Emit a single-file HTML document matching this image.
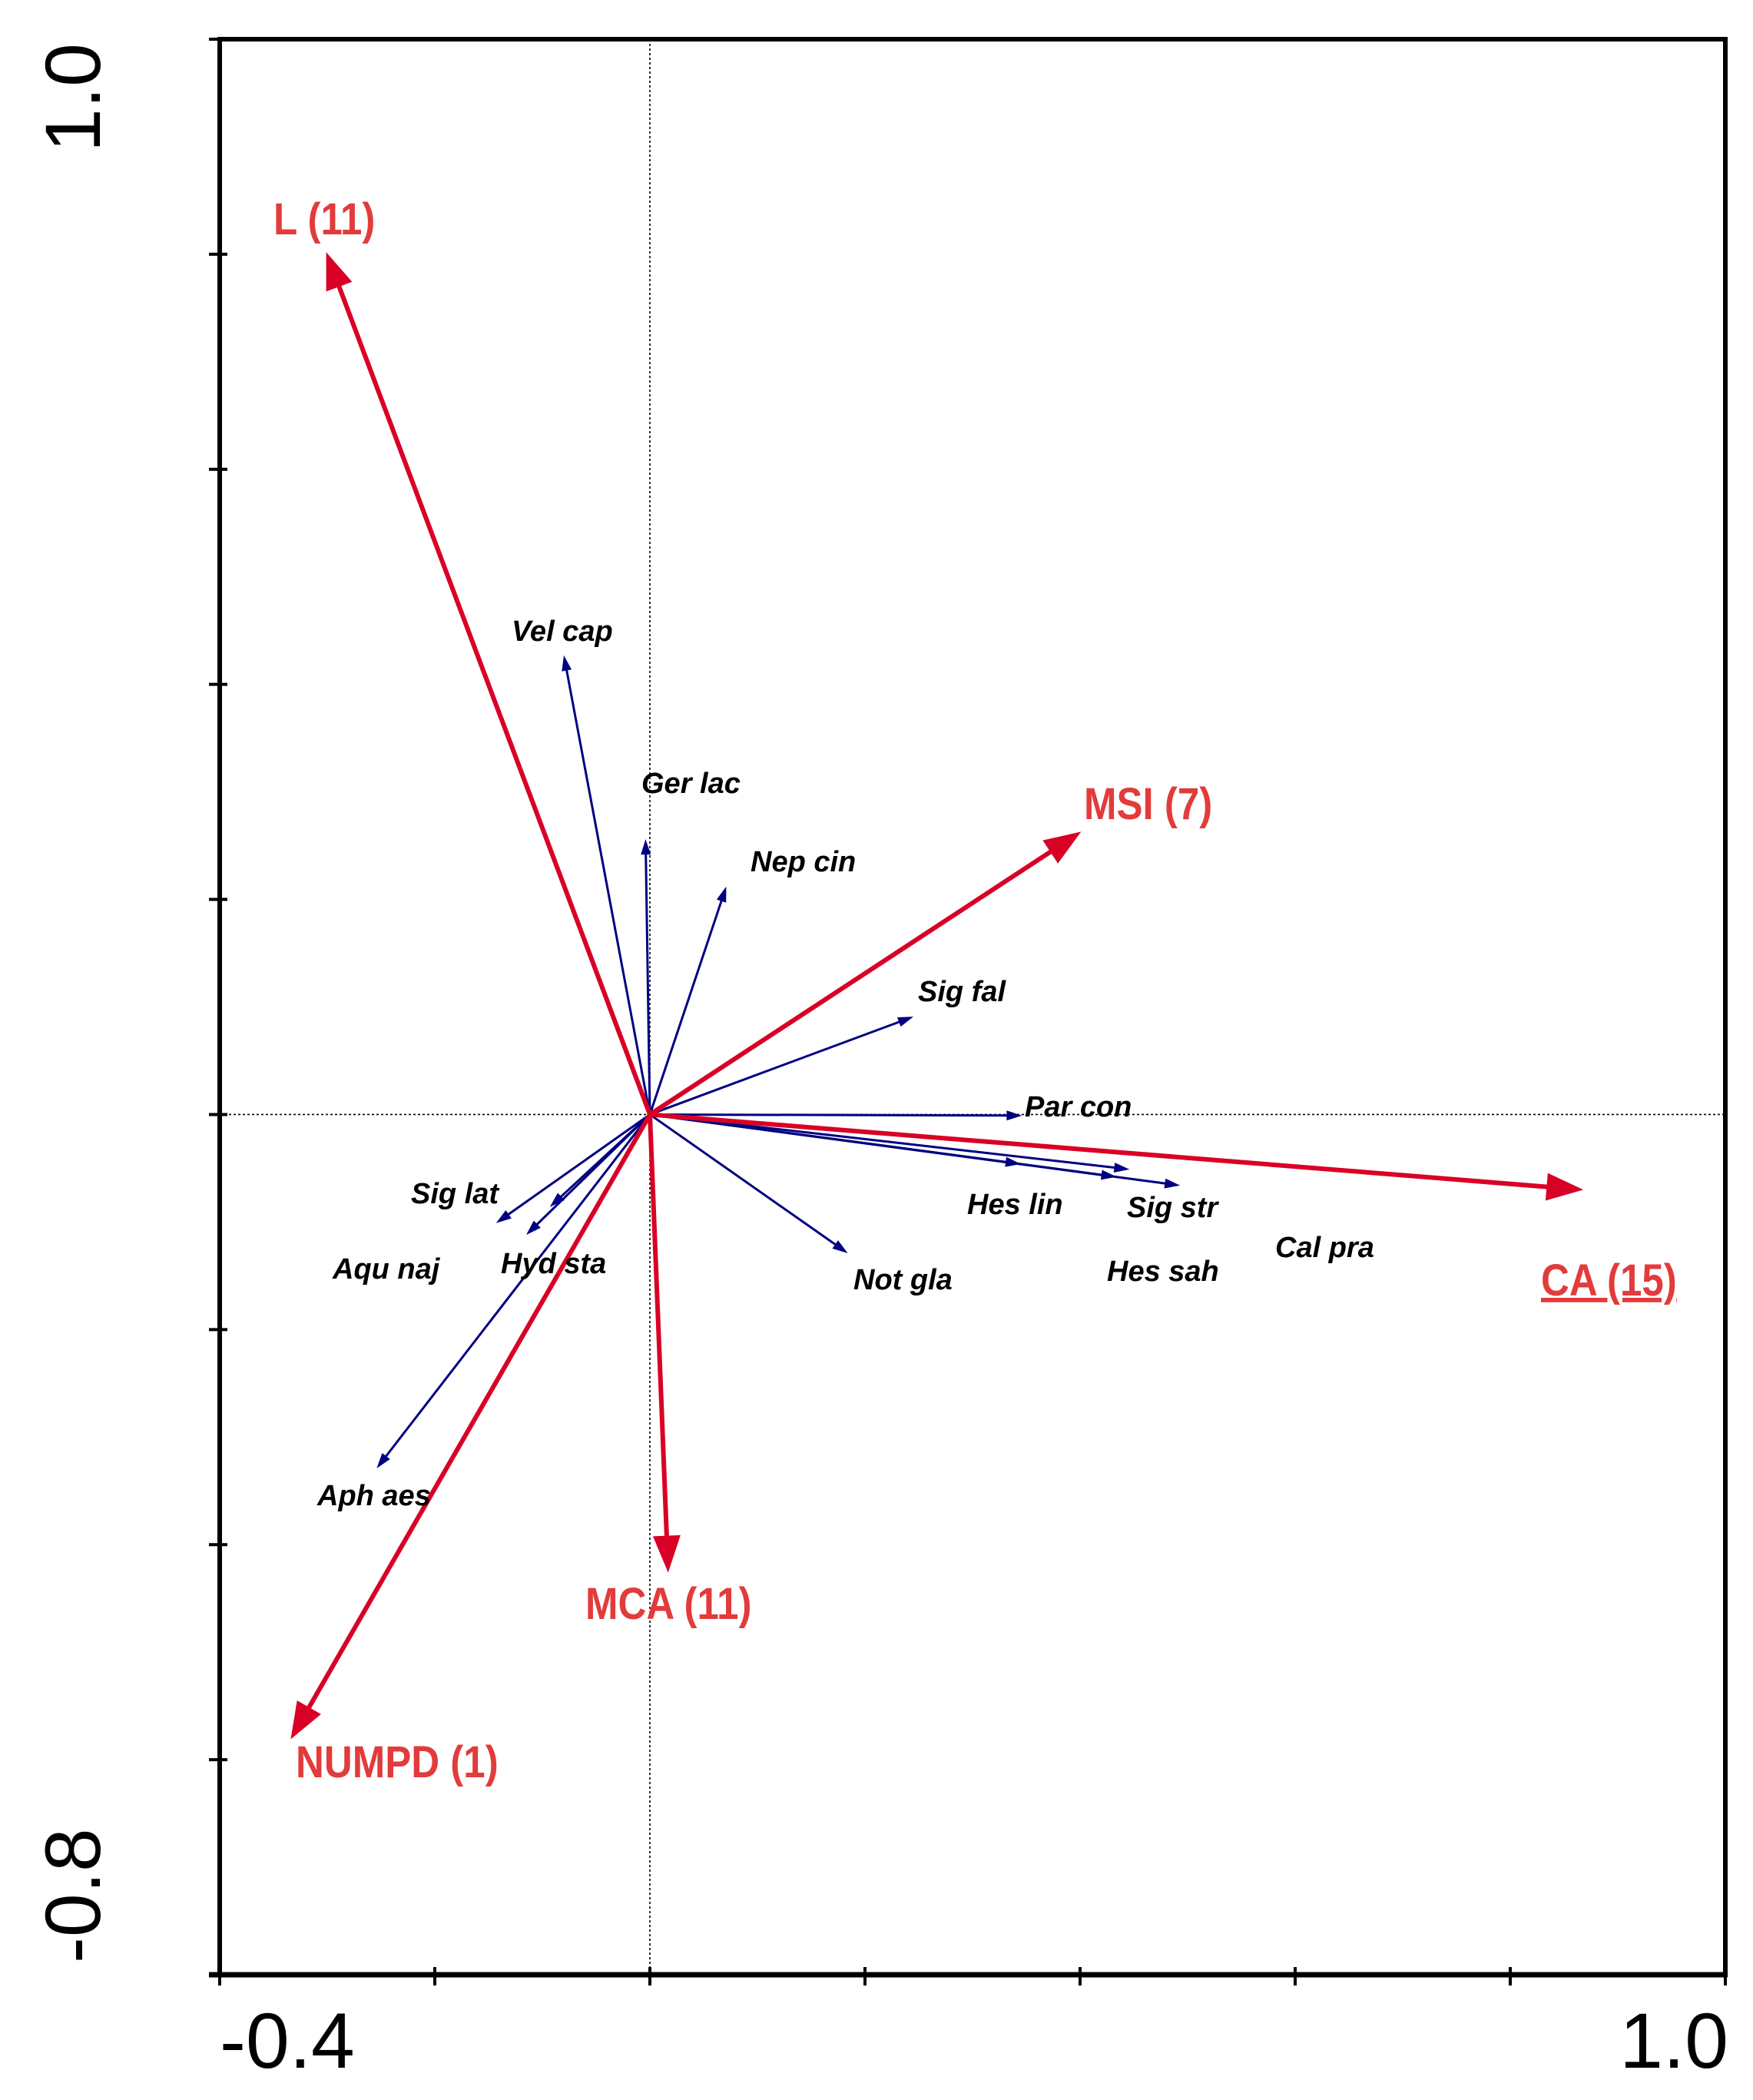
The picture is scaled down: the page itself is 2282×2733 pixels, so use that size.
<!DOCTYPE html>
<html><head><meta charset="utf-8"><style>
html,body{margin:0;padding:0;background:#fff;}
svg{display:block;}
.sp{font-family:"Liberation Sans Narrow","Liberation Sans",sans-serif;font-weight:bold;font-style:italic;font-size:38px;fill:#000;}
.env{font-family:"Liberation Sans Narrow","Liberation Sans",sans-serif;font-weight:bold;font-size:58px;fill:#e23b3b;}
.tick{font-family:"Liberation Sans",sans-serif;font-size:102px;fill:#000;}
</style></head><body>
<svg id="chart" width="2282" height="2733" viewBox="0 0 2282 2733" xmlns="http://www.w3.org/2000/svg">
<g id="axes"></g>
<g id="marks"></g>
<g id="labels"></g>
</svg>
<script>
const envNames = ["L (11)","MSI (7)","CA (15)","MCA (11)","NUMPD (1)"];
const envX = [-0.301, 0.401, 0.868, 0.017, -0.334];
const envY = [0.802, 0.263, -0.070, -0.426, -0.581];
const envLabelPx = [[356,305],[1411,1066],[2006,1686],[762,2107],[385,2313]];
const spNames = ["Vel cap","Ger lac","Nep cin","Sig fal","Par con","Hes lin","Sig str","Hes sah","Cal pra","Not gla","Sig lat","Aqu naj","Hyd sta","Aph aes"];
const spX = [-0.080,-0.004,0.071,0.245,0.346,0.345,0.493,0.446,0.434,0.184,-0.143,-0.093,-0.115,-0.254];
const spY = [0.427,0.256,0.212,0.091,-0.001,-0.046,-0.066,-0.051,-0.058,-0.129,-0.101,-0.086,-0.112,-0.329];
const spLabelPx = [[666,834],[835,1032],[977,1134],[1195,1303],[1334,1453],[1259,1580],[1467,1584],[1441,1667],[1660,1636],[1111,1678],[535,1566],[433,1664],[652,1657],[413,1959]];
const xTicks = [-0.4,-0.2,0,0.2,0.4,0.6,0.8,1.0];
const yTicks = [-0.8,-0.6,-0.4,-0.2,0,0.2,0.4,0.6,0.8,1.0];
const xTickLabels = ["-0.4","1.0"];
const yTickLabels = ["-0.8","1.0"];

const L=286,R=2246,T=51,B=2570;
const sx = v => L + (v+0.4)/1.4*(R-L);
const sy = v => B - (v+0.8)/1.8*(B-T);
const NS="http://www.w3.org/2000/svg";
function mk(tag, parent){const e=document.createElementNS(NS,tag);parent.appendChild(e);return e;}
const axes=document.getElementById('axes'), marks=document.getElementById('marks'), labels=document.getElementById('labels');

let zx=mk('line',axes);


zx.setAttribute('x1',sx(0));zx.setAttribute('x2',sx(0));zx.setAttribute('y1',T);zx.setAttribute('y2',B);
zx.setAttribute('stroke','#000');zx.setAttribute('stroke-width','1.6');zx.setAttribute('stroke-dasharray','3 3');
let zy=mk('line',axes);


zy.setAttribute('x1',L);zy.setAttribute('x2',R);zy.setAttribute('y1',sy(0));zy.setAttribute('y2',sy(0));
zy.setAttribute('stroke','#000');zy.setAttribute('stroke-width','1.6');zy.setAttribute('stroke-dasharray','3 3');

let fr=mk('rect',axes);


fr.setAttribute('x',L);fr.setAttribute('y',T);fr.setAttribute('width',R-L);fr.setAttribute('height',B-T);
fr.setAttribute('fill','none');fr.setAttribute('stroke','#000');fr.setAttribute('stroke-width','6');
let bl=mk('line',axes);


bl.setAttribute('x1',L-14);bl.setAttribute('x2',R+3);bl.setAttribute('y1',B);bl.setAttribute('y2',B);
bl.setAttribute('stroke','#000');bl.setAttribute('stroke-width','7');

xTicks.forEach(v=>{let t=mk('line',axes);


t.setAttribute('x1',sx(v));t.setAttribute('x2',sx(v));t.setAttribute('y1',B-10);t.setAttribute('y2',B+14);
t.setAttribute('stroke','#000');t.setAttribute('stroke-width','4');});
yTicks.forEach(v=>{let t=mk('line',axes);


t.setAttribute('x1',L-14);t.setAttribute('x2',L+10);t.setAttribute('y1',sy(v));t.setAttribute('y2',sy(v));
t.setAttribute('stroke','#000');t.setAttribute('stroke-width','4');});

let xl0=mk('text',axes);
xl0.setAttribute('class','tick');xl0.setAttribute('x',286);xl0.setAttribute('y',2691);xl0.textContent=xTickLabels[0];
let xl1=mk('text',axes);
xl1.setAttribute('class','tick');xl1.setAttribute('x',2250);xl1.setAttribute('y',2691);xl1.setAttribute('text-anchor','end');xl1.textContent=xTickLabels[1];
let yl0=mk('text',axes);
yl0.setAttribute('class','tick');yl0.setAttribute('transform','translate(130,2555) rotate(-90)');yl0.textContent=yTickLabels[0];
let yl1=mk('text',axes);
yl1.setAttribute('class','tick');yl1.setAttribute('transform','translate(130,198) rotate(-90)');yl1.textContent=yTickLabels[1];

function arrow(x,y,color,w,hl,hw,name){
  const x0=sx(0),y0=sy(0),x1=sx(x),y1=sy(y);
  const dx=x1-x0,dy=y1-y0,len=Math.hypot(dx,dy),ux=dx/len,uy=dy/len;
  const bx=x1-ux*hl,by=y1-uy*hl;
  const g=mk('g',marks);
  
  
  const ln=mk('line',g);
  ln.setAttribute('x1',x0);ln.setAttribute('y1',y0);ln.setAttribute('x2',bx+ux*2);ln.setAttribute('y2',by+uy*2);
  ln.setAttribute('stroke',color);ln.setAttribute('stroke-width',w);
  const p=mk('polygon',g);
  p.setAttribute('points',`${x1},${y1} ${bx-uy*hw/2},${by+ux*hw/2} ${bx+uy*hw/2},${by-ux*hw/2}`);
  p.setAttribute('fill',color);
}
spNames.forEach((n,i)=>arrow(spX[i],spY[i],'#000080',3,20,13,'species-arrow-'+n.toLowerCase().replace(' ','-')));
envNames.forEach((n,i)=>arrow(envX[i],envY[i],'#d90026',6,48,36,'env-arrow-'+n.split(' ')[0].toLowerCase()));

spNames.forEach((n,i)=>{const t=mk('text',labels);


t.setAttribute('class','sp');t.setAttribute('x',spLabelPx[i][0]);t.setAttribute('y',spLabelPx[i][1]);t.textContent=n;});
envNames.forEach((n,i)=>{const t=mk('text',labels);


t.setAttribute('class','env');t.setAttribute('x',envLabelPx[i][0]);t.setAttribute('y',envLabelPx[i][1]);
if(i===2)t.setAttribute('text-decoration','underline');
t.textContent=n;
const w=t.getComputedTextLength();
t.setAttribute('textLength',(w*0.88).toFixed(1));
t.setAttribute('lengthAdjust','spacingAndGlyphs');});
</script>
</body></html>
